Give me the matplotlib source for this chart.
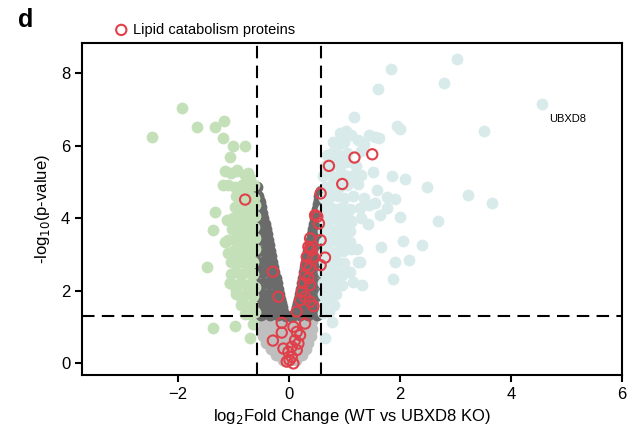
import matplotlib
matplotlib.use("Agg")
import matplotlib.pyplot as plt

plt.rcParams['font.family'] = ['Liberation Sans', 'DejaVu Sans']

# ---------------- data ----------------
# non-significant, -log10 p > 1.3 (dark gray wedges)
gray_dark_x = [-0.57, -0.56, -0.54, -0.57, -0.50, -0.56, -0.46, -0.57, -0.49, -0.42,
               -0.57, -0.47, -0.38, -0.56, -0.45, -0.34, -0.57, -0.46, -0.36, -0.30,
               -0.56, -0.46, -0.36, -0.27, -0.57, -0.47, -0.37, -0.28, -0.22,
               -0.56, -0.46, -0.36, -0.26, -0.18, -0.57, -0.47, -0.37, -0.27, -0.15,
               -0.58, -0.48, -0.38, -0.28, -0.18, -0.11,
               -0.52, -0.48, -0.44, -0.40, -0.36, -0.32, -0.28, -0.24, -0.20, -0.16, -0.13,
               -0.50, -0.35, -0.20, -0.05, 0.05, 0.20, 0.35, 0.50,
               0.57, 0.57, 0.54, 0.57, 0.50, 0.57, 0.47, 0.57, 0.50, 0.43,
               0.57, 0.48, 0.39, 0.57, 0.46, 0.35, 0.57, 0.47, 0.38, 0.31,
               0.57, 0.47, 0.37, 0.27, 0.57, 0.47, 0.37, 0.29, 0.23,
               0.57, 0.47, 0.37, 0.27, 0.19, 0.57, 0.47, 0.37, 0.27, 0.16,
               0.58, 0.48, 0.38, 0.28, 0.18, 0.13,
               0.55, 0.52, 0.48, 0.45, 0.41, 0.37, 0.33, 0.29, 0.25, 0.21, 0.18, 0.15]
gray_dark_y = [4.85, 4.60, 4.50, 4.30, 4.30, 4.00, 4.00, 3.70, 3.70, 3.70,
               3.40, 3.40, 3.40, 3.10, 3.10, 3.10, 2.80, 2.80, 2.80, 2.80,
               2.50, 2.50, 2.50, 2.50, 2.20, 2.20, 2.20, 2.20, 2.20,
               1.90, 1.90, 1.90, 1.90, 1.90, 1.65, 1.65, 1.65, 1.65, 1.65,
               1.42, 1.42, 1.42, 1.42, 1.42, 1.42,
               4.45, 4.15, 3.85, 3.55, 3.25, 2.95, 2.65, 2.35, 2.05, 1.78, 1.55,
               1.33, 1.33, 1.33, 1.31, 1.31, 1.33, 1.33, 1.33,
               4.75, 4.50, 4.50, 4.25, 4.25, 4.00, 4.00, 3.70, 3.70, 3.70,
               3.40, 3.40, 3.40, 3.10, 3.10, 3.10, 2.80, 2.80, 2.80, 2.80,
               2.50, 2.50, 2.50, 2.50, 2.20, 2.20, 2.20, 2.20, 2.20,
               1.90, 1.90, 1.90, 1.90, 1.90, 1.65, 1.65, 1.65, 1.65, 1.65,
               1.42, 1.42, 1.42, 1.42, 1.42, 1.42,
               4.62, 4.38, 4.12, 3.85, 3.55, 3.25, 2.95, 2.65, 2.35, 2.05, 1.78, 1.55]

# non-significant, -log10 p < 1.3 (light gray blob)
gray_light_x = [-0.53, -0.40, -0.28, -0.16, -0.04, 0.08, 0.20, 0.32, 0.42,
                -0.50, -0.38, -0.26, -0.14, -0.02, 0.10, 0.22, 0.34, 0.41,
                -0.47, -0.35, -0.23, -0.11, 0.01, 0.13, 0.25, 0.39,
                -0.42, -0.30, -0.18, -0.06, 0.06, 0.18, 0.34,
                -0.33, -0.21, -0.09, 0.03, 0.15, 0.30,
                -0.24, -0.12, 0.00, 0.12, 0.24,
                -0.10, 0.02, 0.12]
gray_light_y = [1.15, 1.15, 1.15, 1.15, 1.15, 1.15, 1.15, 1.15, 1.15,
                0.95, 0.95, 0.95, 0.95, 0.95, 0.95, 0.95, 0.95, 0.95,
                0.75, 0.75, 0.75, 0.75, 0.75, 0.75, 0.75, 0.75,
                0.55, 0.55, 0.55, 0.55, 0.55, 0.55, 0.55,
                0.38, 0.38, 0.38, 0.38, 0.38, 0.38,
                0.22, 0.22, 0.22, 0.22, 0.22,
                0.08, 0.08, 0.08]

# down-regulated (green)
green_x = [-1.93, -2.46, -1.66, -1.33, -1.17, -1.19, -1.00, -0.80, -1.06, -1.15,
           -0.94, -0.73, -1.18, -1.33, -1.36, -1.15, -1.47, -1.06, -1.36, -0.98,
           -0.70, -0.65,
           -1.05, -0.93, -0.80, -0.70,
           -1.10, -0.98, -0.85, -0.72, -0.63,
           -0.95, -0.85, -0.72, -0.63,
           -0.98, -0.88, -0.78, -0.68, -0.62,
           -1.12, -1.00, -0.90, -0.80, -0.70, -0.62,
           -1.02, -0.92, -0.82, -0.72, -0.63,
           -1.10, -0.98, -0.88, -0.78, -0.68, -0.62,
           -1.10, -1.00, -0.90, -0.80, -0.70, -0.62,
           -1.05, -0.95, -0.85, -0.75, -0.65,
           -1.05, -0.95, -0.85, -0.75, -0.65,
           -1.07, -0.98, -0.88, -0.78, -0.68, -0.62,
           -0.95, -0.85, -0.75, -0.65,
           -0.86, -0.76, -0.66,
           -0.80, -0.70, -0.62,
           -0.90, -0.78, -0.92, -0.80, -0.88, -0.74, -0.96, -0.84]
green_y = [7.03, 6.23, 6.52, 6.52, 6.67, 6.22, 5.98, 5.98, 5.69, 5.30,
           5.32, 5.23, 4.91, 4.17, 3.67, 3.35, 2.66, 2.20, 0.98, 1.02,
           0.68, 1.09,
           5.25, 5.30, 5.20, 5.10,
           4.90, 4.85, 4.90, 4.85, 4.90,
           4.60, 4.55, 4.60, 4.55,
           4.30, 4.25, 4.30, 4.25, 4.35,
           3.95, 4.00, 3.95, 4.00, 3.95, 4.05,
           3.70, 3.65, 3.70, 3.65, 3.75,
           3.40, 3.40, 3.35, 3.40, 3.35, 3.45,
           3.05, 3.10, 3.05, 3.10, 3.05, 3.15,
           2.80, 2.75, 2.80, 2.75, 2.80,
           2.45, 2.50, 2.45, 2.50, 2.45,
           2.20, 2.15, 2.20, 2.15, 2.20, 2.10,
           1.90, 1.85, 1.90, 1.85,
           1.60, 1.55, 1.60,
           1.35, 1.35, 1.40,
           4.72, 4.45, 3.52, 3.25, 2.95, 2.62, 2.02, 1.72]

# up-regulated (light blue)
blue_x = [3.02, 1.84, 2.80, 1.60, 4.56, 1.17, 1.94, 2.00, 3.51, 1.51,
          1.85, 2.09, 3.23, 3.65, 2.68, 2.00, 2.06, 2.40, 1.66, 1.91,
          2.16, 1.28, 1.88, 1.16, 1.31, 0.77, 0.65,
          1.59, 1.76, 1.91, 1.55, 1.28, 1.76, 1.64, 1.43, 1.22, 1.25, 0.89,
          1.10, 0.92, 1.04, 0.80, 0.74, 0.65, 2.48,
          0.92, 1.02, 1.12, 1.45, 1.55, 1.62,
          0.80, 0.90, 1.00, 1.25, 1.35,
          0.68, 0.78, 0.88, 1.05, 1.30,
          0.65, 0.80, 0.92, 1.05, 1.20,
          0.62, 0.75, 0.88, 1.00, 1.12, 1.30,
          0.65, 0.78, 0.90, 1.05, 1.25,
          0.64, 0.75, 0.88, 1.00, 1.15, 1.35,
          0.62, 0.74, 0.86, 0.98, 1.10, 1.45,
          0.63, 0.75, 0.87, 1.00, 1.12, 1.30,
          0.62, 0.73, 0.85, 0.97, 1.10,
          0.63, 0.74, 0.86, 0.98, 1.10,
          0.62, 0.73, 0.85, 0.97, 1.12,
          0.63, 0.75, 0.87, 1.00,
          0.62, 0.73, 0.85, 0.97, 1.10,
          0.62, 0.72, 0.84, 0.95,
          0.62, 0.72, 0.84,
          0.62, 0.72, 0.82,
          0.62, 0.72]
blue_y = [8.39, 8.10, 7.74, 7.55, 7.14, 6.80, 6.54, 6.47, 6.41, 5.28,
          5.16, 5.09, 4.63, 4.42, 3.93, 4.02, 3.37, 3.26, 3.19, 2.80,
          2.84, 2.80, 2.31, 2.24, 2.15, 1.14, 0.70,
          4.77, 4.59, 4.54, 4.41, 4.27, 4.27, 4.08, 3.85, 3.16, 2.80, 2.47,
          3.94, 3.48, 3.30, 2.66, 2.20, 1.83, 4.86,
          6.35, 6.40, 6.30, 6.30, 6.25, 6.20,
          6.10, 6.05, 6.10, 6.15, 6.05,
          5.75, 5.80, 5.75, 5.80, 5.85,
          5.45, 5.50, 5.45, 5.55, 5.45,
          5.15, 5.20, 5.15, 5.20, 5.15, 5.20,
          4.85, 4.90, 4.85, 4.90, 4.95,
          4.55, 4.60, 4.60, 4.55, 4.60, 4.55,
          4.25, 4.30, 4.25, 4.30, 4.25, 4.35,
          3.95, 4.00, 3.95, 4.00, 3.90, 4.00,
          3.65, 3.70, 3.65, 3.70, 3.65,
          3.35, 3.40, 3.35, 3.40, 3.35,
          3.05, 3.10, 3.05, 3.10, 3.15,
          2.80, 2.75, 2.80, 2.75,
          2.50, 2.45, 2.50, 2.45, 2.50,
          2.20, 2.15, 2.20, 2.15,
          1.90, 1.85, 1.90,
          1.60, 1.55, 1.60,
          1.38, 1.40]

# lipid catabolism proteins (red open circles)
lipid_x = [-0.79, 0.72, 1.18, 1.50, 0.96, 0.57, 0.47, 0.51, 0.54, 0.57,
           0.38, 0.38, 0.35, 0.41, 0.32, 0.44, 0.65, 0.57, 0.31, 0.37,
           0.29, 0.35, 0.26, 0.38, 0.23, 0.29, 0.20, 0.38, 0.44, 0.14,
           -0.29, -0.19, -0.13, 0.29, 0.08, -0.13, -0.29, 0.14, 0.20, 0.11,
           0.17, 0.05, 0.14, -0.01, 0.05, 0.01, -0.04, 0.08, -0.10]
lipid_y = [4.51, 5.44, 5.67, 5.76, 4.94, 4.68, 4.08, 4.04, 3.85, 3.39,
           3.44, 3.16, 3.21, 3.12, 2.93, 2.93, 2.91, 2.70, 2.70, 2.61,
           2.43, 2.34, 2.20, 2.15, 1.97, 1.83, 1.74, 1.69, 1.57, 1.42,
           2.52, 1.83, 1.11, 1.09, 1.00, 0.84, 0.62, 0.86, 0.77, 0.63,
           0.54, 0.45, 0.36, 0.31, 0.17, 0.08, 0.04, -0.01, 0.40]

fc_cut = 0.585
p_cut = 1.3
x_ticks = [-2, 0, 2, 4, 6]
y_ticks = [0, 2, 4, 6, 8]
label_gene = "UBXD8"
label_gene_xy = (4.68, 6.74)

# ---------------- plot ----------------
fig = plt.figure(figsize=(6.32, 4.38), dpi=100)
ax = fig.add_axes([0.1297, 0.1438, 0.8544, 0.7580])

dot_s = 72
ax.scatter(gray_light_x, gray_light_y, s=dot_s, color='#bfbfbf', linewidths=0, zorder=2)
ax.scatter(gray_dark_x, gray_dark_y, s=dot_s, color='#6b6b6b', linewidths=0, zorder=3)
ax.scatter(green_x, green_y, s=dot_s, color='#c4e0b8', linewidths=0, zorder=4)
ax.scatter(blue_x, blue_y, s=dot_s, color='#d9eaea', linewidths=0, zorder=4)
ax.scatter(lipid_x, lipid_y, s=55, facecolors='none', edgecolors='#e0404a',
           linewidths=1.5, zorder=6, label='Lipid catabolism proteins')

dash = (0, (6, 3.5))
ax.axvline(-fc_cut, color='black', lw=1.5, ls=dash, zorder=5)
ax.axvline(fc_cut, color='black', lw=1.5, ls=dash, zorder=5)
ax.axhline(p_cut, color='black', lw=1.5, ls=dash, zorder=5)

ax.text(label_gene_xy[0], label_gene_xy[1], label_gene, fontsize=8, ha='left', va='center')

ax.set_xlim(-3.73, 6.0)
ax.set_ylim(-0.33, 8.83)
ax.set_xticks(x_ticks)
ax.set_yticks(y_ticks)
ax.tick_params(direction='out', length=5, width=1.5, labelsize=12)
for sp in ax.spines.values():
    sp.set_linewidth(1.5)

ax.set_xlabel('log$_{2}$Fold Change (WT vs UBXD8 KO)', fontsize=12, labelpad=4)
ax.set_ylabel('-log$_{10}$(p-value)', fontsize=12, labelpad=6)

leg = ax.legend(loc='center left', bbox_to_anchor=(0.062, 1.04), frameon=False,
                fontsize=10.5, handlelength=0.8, handletextpad=0.4, borderpad=0,
                borderaxespad=0)

fig.text(0.028, 0.954, 'd', fontsize=18, fontweight='bold', ha='left', va='center')

fig.savefig('out.png', dpi=100)
